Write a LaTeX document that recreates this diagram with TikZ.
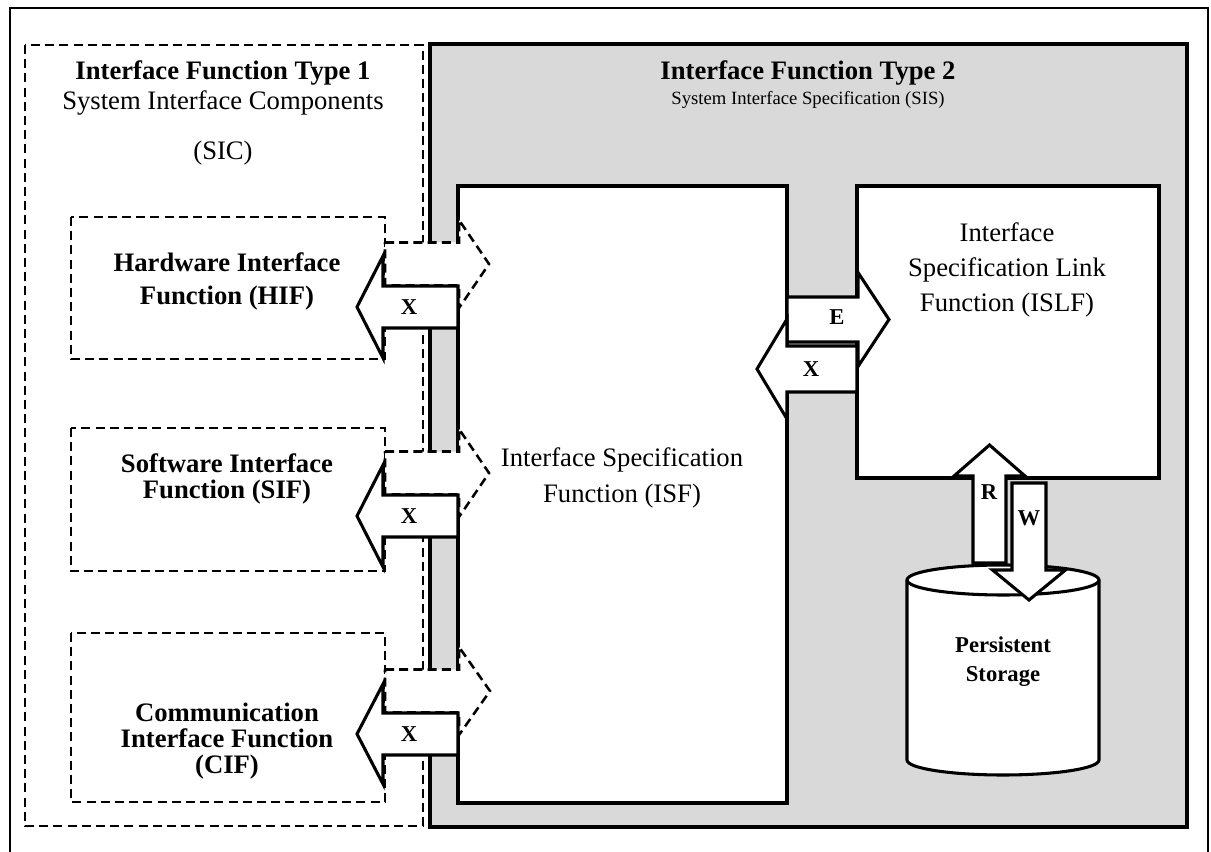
\documentclass[tikz,border=0pt]{standalone}
\usepackage{fontspec}
\setmainfont{Liberation Serif}
\definecolor{panel}{HTML}{D9D9D9}

% horizontal block arrow: style, tail x, head-base x, tip x, centre y, shaft half-width, head half-width
\newcommand\blkH[7]{%
  \draw[#1] (#2,#5-#6) -- (#3,#5-#6) -- (#3,#5-#7) -- (#4,#5) -- (#3,#5+#7)
    -- (#3,#5+#6) -- (#2,#5+#6) -- cycle;}
% vertical block arrow: style, tail y, head-base y, tip y, centre x, shaft half-width, head half-width
\newcommand\blkV[7]{%
  \draw[#1] (#5-#6,#2) -- (#5-#6,#3) -- (#5-#7,#3) -- (#5,#4) -- (#5+#7,#3)
    -- (#5+#6,#3) -- (#5+#6,#2) -- cycle;}

\begin{document}
\begin{tikzpicture}[x=0.75pt,y=-0.75pt,
  outerframe/.style={draw=black,line width=2.2pt},
  dbox/.style={draw=black,line width=1.9pt,dash pattern=on 6.75pt off 3.9pt},
  panelbox/.style={draw=black,fill=panel,line width=3.4pt},
  fbox/.style={draw=black,fill=white,line width=2.8pt},
  sarr/.style={draw=black,fill=white,line width=2.3pt,line join=miter},
  darr/.style={dbox,fill=white,line join=miter},
  reg/.style={font=\fontsize{20}{24}\selectfont,align=center,inner sep=0pt},
  bld/.style={font=\fontsize{20}{24}\selectfont\bfseries,align=center,inner sep=0pt},
  albl/.style={font=\fontsize{17}{20}\selectfont\bfseries,inner sep=0pt}]
\useasboundingbox (0,0) rectangle (1211,852);

% outer frame (its bottom edge lies below the page)
\draw[outerframe] (10,856) -- (10,8) -- (1208,8) -- (1208,856);

% interface function type 1 region
\draw[dbox] (25,45) rectangle (423,826);
\node[bld] (t1a) at (223,73) {Interface Function Type 1};
\node[reg] (t1b) at (223,103) {System Interface Components};
\node[reg] (t1c) at (223,153) {(SIC)};

% interface function type 2 region
\draw[panelbox] (430,44) rectangle (1187,827);
\node[bld] (t2a) at (808,73) {Interface Function Type 2};
\node[reg,font=\fontsize{14}{16}\selectfont] (t2b) at (808,100) {System Interface Specification (SIS)};

% specification function and link function
\draw[fbox] (458,186) rectangle (787,803);
\node[reg,font=\fontsize{20}{27}\selectfont] (isf) at (622,478) {Interface Specification\\Function (ISF)};
\draw[fbox] (857,186) rectangle (1159,478);
\node[reg,font=\fontsize{20}{26}\selectfont] (islf) at (1007,270) {Interface\\Specification Link\\Function (ISLF)};

% persistent storage
\draw[fbox,line width=2.3pt] (907,580) -- (907,760)
  arc[start angle=180,end angle=360,x radius=72pt,y radius=11.25pt]
  -- (1099,580)
  arc[start angle=0,end angle=180,x radius=72pt,y radius=11.25pt] -- cycle;
\draw[line width=2.3pt] (907,580) arc[start angle=180,end angle=360,x radius=72pt,y radius=11.25pt];
\node[bld,font=\fontsize{17}{21.75}\selectfont\bfseries] (store) at (1003,662) {Persistent\\Storage};

% hardware interface function
\draw[dbox] (71,217) rectangle (385,359);
\node[bld,font=\fontsize{20}{24.75}\selectfont\bfseries] (hif) at (227,281) {Hardware Interface\\Function (HIF)};
\blkH{darr}{385}{459}{489}{264}{21.5}{44}
\blkH{sarr}{458}{383}{357}{307}{21}{51}
\node[albl] (xh) at (409,307) {X};

% software interface function
\draw[dbox] (71,428) rectangle (385,571);
\node[bld,font=\fontsize{20}{19.5}\selectfont\bfseries] (sif) at (227,479) {Software Interface\\Function (SIF)};
\blkH{darr}{385}{459}{489}{473}{21.5}{44}
\blkH{sarr}{458}{383}{357}{516}{21}{51}
\node[albl] (xs) at (409,516) {X};

% communication interface function
\draw[dbox] (71,633) rectangle (385,802);
\node[bld,font=\fontsize{20}{19.5}\selectfont\bfseries] (cif) at (227,741) {Communication\\Interface Function\\(CIF)};
\blkH{darr}{385}{459}{490}{691}{21.5}{44}
\blkH{sarr}{458}{383}{357}{734}{21}{50}
\node[albl] (xc) at (409,734) {X};

% exchange between ISF and ISLF
\blkH{sarr}{787}{858}{889}{319.5}{22.5}{47}
\blkH{sarr}{857}{787}{757}{369}{23}{50}
\node[albl] (e) at (837,317) {E};
\node[albl] (xi) at (811,369) {X};

% read / write with the storage
\blkV{sarr}{563}{476}{445}{989.5}{16.5}{35.5}
\blkV{sarr}{483}{570}{600}{1029}{17}{36.5}
\node[albl] (r) at (989,492) {R};
\node[albl] (w) at (1029,518) {W};
\end{tikzpicture}
\end{document}
